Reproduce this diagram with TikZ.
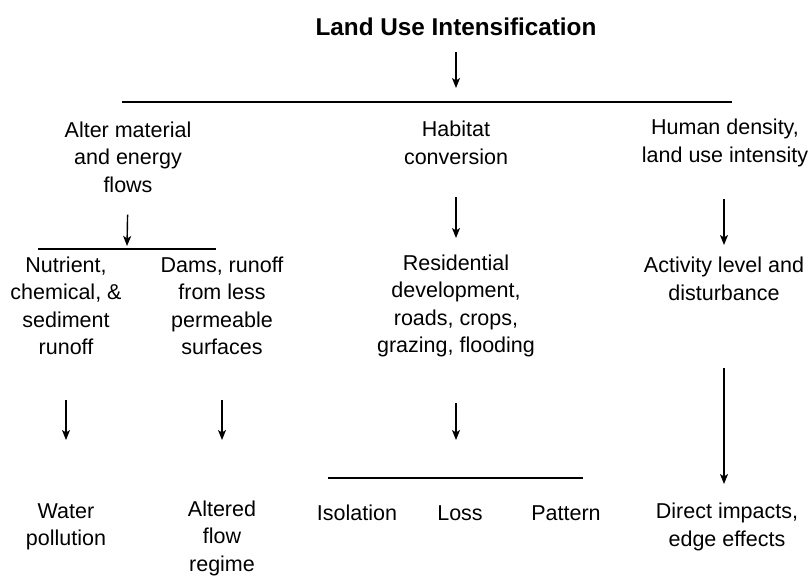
\documentclass[tikz,border=0pt]{standalone}
\usepackage{fontspec}
\setmainfont{Liberation Sans}
\usetikzlibrary{arrows.meta}
\tikzset{
  flow/.style={-{Stealth[length=10pt,width=8pt,inset=2.5pt]},line width=1.4pt,draw=black},
  bar/.style={line width=1.4pt,draw=black},
  label/.style={align=center,inner sep=0pt,font=\fontsize{21.5}{27.5}\selectfont},
  headline/.style={inner sep=0pt,font=\fontsize{24.3}{28}\selectfont\bfseries}
}
\begin{document}
\begin{tikzpicture}[x=1pt,y=-1pt]
  \useasboundingbox (0,0) rectangle (808,576);
  % header and first split
  \node[headline] (title) at (456,27) {Land Use Intensification};
  \coordinate (topL) at (122,102);
  \coordinate (topR) at (732,102);
  \coordinate (topin) at (456,88);
  \draw[bar] (topL) -- (topR);
  \draw[flow,shorten <=16pt] (title.south) -- (topin);
  % three branches
  \node[label] (alter) at (128,157) {Alter material\\and energy\\flows};
  \node[label] (habitat) at (456,143) {Habitat\\conversion};
  \node[label] (human) at (725,143) {Human density,\\land use intensity};
  % material flows split
  \coordinate (flowL) at (38,249);
  \coordinate (flowR) at (216,249);
  \coordinate (flowin) at (127,246);
  \draw[bar] (flowL) -- (flowR);
  \node[label] (nutrient) at (66,306) {Nutrient,\\chemical, \&\\sediment\\runoff};
  \node[label] (dams) at (222,306) {Dams, runoff\\from less\\permeable\\surfaces};
  \node[label] (resid) at (456,306) {Residential\\development,\\roads, crops,\\grazing, flooding};
  \node[label] (activity) at (724,279) {Activity level and\\disturbance};
  % outcomes
  \coordinate (habL) at (328,478);
  \coordinate (habR) at (583,478);
  \coordinate (habin) at (456,440);
  \coordinate (impin) at (724,484);
  \draw[bar,line width=1.2pt] (habL) -- (habR);
  \node[label] (water) at (66,527) {Water\\pollution};
  \node[label] (altered) at (222,538) {Altered\\flow\\regime};
  \node[label] (isolation) at (357,513) {Isolation};
  \node[label] (loss) at (460,513) {Loss};
  \node[label] (pattern) at (566,513) {Pattern};
  \node[label] (direct) at (727,527) {Direct impacts,\\edge effects};
  % arrows
  \draw[flow,shorten <=22pt] (alter.south) -- (flowin);
  \draw[flow,shorten <=32pt] (habitat.south) -- (habitat.south |- 0,238);
  \draw[flow,shorten <=32pt] (human.south -| 724,0) -- (724,245);
  \draw[flow,shorten <=45pt] (nutrient.south) -- (nutrient.south |- 0,440);
  \draw[flow,shorten <=45pt] (dams.south) -- (dams.south |- 0,440);
  \draw[flow,shorten <=46pt] (resid.south) -- (habin);
  \draw[flow,shorten <=67pt] (activity.south) -- (impin);
\end{tikzpicture}
\end{document}
